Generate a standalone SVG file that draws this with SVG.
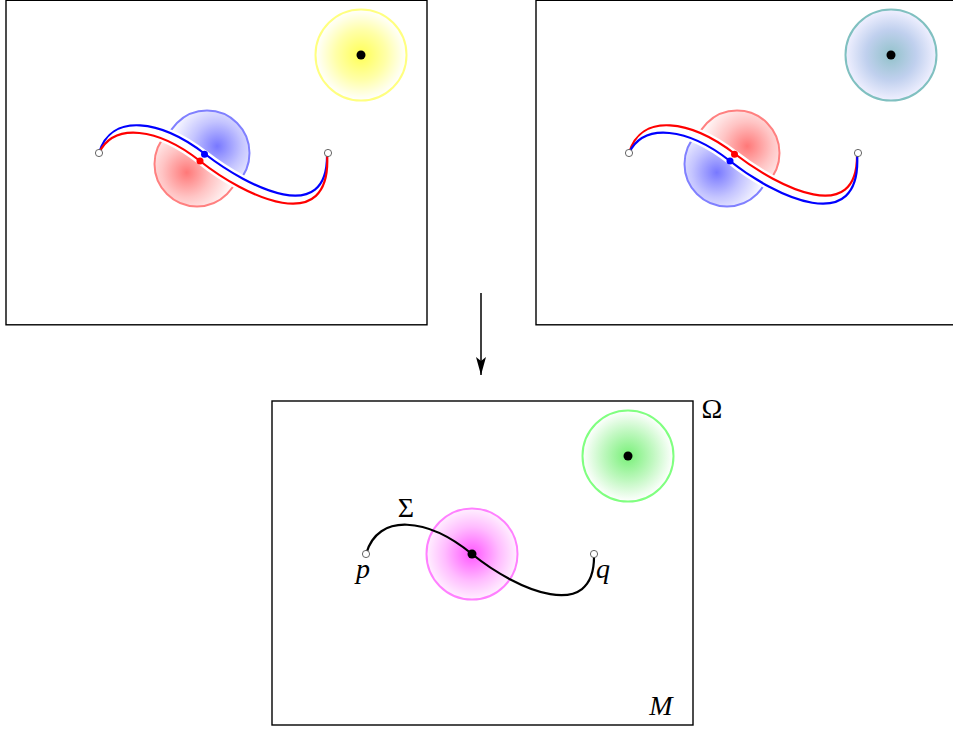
<svg xmlns="http://www.w3.org/2000/svg" width="953" height="729" viewBox="0 0 953 729">
<style>
.frame{fill:none;stroke:#000;stroke-width:1.4}
.ball{stroke-width:2}
.crv{fill:none;stroke-width:2.2;stroke-linecap:round}
.case{fill:none;stroke:#fff;stroke-width:7;stroke-linecap:round}
.end{fill:#fff;stroke:#555;stroke-width:0.9}
.lbl{font-family:"Liberation Serif","DejaVu Serif",serif;font-size:28px;fill:#000;text-anchor:middle}
.it{font-style:italic}
</style>
<defs>
<radialGradient id="gY" cx="0.5" cy="0.5" r="0.5"><stop offset="0" stop-color="#ffff55"/><stop offset="0.55" stop-color="#ffffa8"/><stop offset="1" stop-color="#ffffff"/></radialGradient>
<radialGradient id="gG" cx="0.5" cy="0.5" r="0.5"><stop offset="0" stop-color="#78f078"/><stop offset="0.55" stop-color="#c0f8c0"/><stop offset="1" stop-color="#ffffff"/></radialGradient>
<radialGradient id="gM" cx="0.5" cy="0.5" r="0.5"><stop offset="0" stop-color="#ff55ff"/><stop offset="0.6" stop-color="#ffbcff"/><stop offset="1" stop-color="#fff0ff"/></radialGradient>
<radialGradient id="gT" cx="0.5" cy="0.5" r="0.5"><stop offset="0" stop-color="#92c2ca"/><stop offset="0.55" stop-color="#c0d0ee"/><stop offset="1" stop-color="#f0f0ff"/></radialGradient>
<radialGradient id="gBur" cx="0.62" cy="0.42" r="0.58"><stop offset="0" stop-color="#7878ff"/><stop offset="0.5" stop-color="#c4c4ff"/><stop offset="1" stop-color="#ffffff"/></radialGradient>
<radialGradient id="gRdl" cx="0.38" cy="0.6" r="0.58"><stop offset="0" stop-color="#ff7878"/><stop offset="0.5" stop-color="#ffc4c4"/><stop offset="1" stop-color="#ffffff"/></radialGradient>
<radialGradient id="gRur" cx="0.62" cy="0.42" r="0.58"><stop offset="0" stop-color="#ff7878"/><stop offset="0.5" stop-color="#ffc4c4"/><stop offset="1" stop-color="#ffffff"/></radialGradient>
<radialGradient id="gBdl" cx="0.38" cy="0.6" r="0.58"><stop offset="0" stop-color="#7878ff"/><stop offset="0.5" stop-color="#c4c4ff"/><stop offset="1" stop-color="#ffffff"/></radialGradient>
<clipPath id="cLtop"><path d="M99,153 C111,112 161,120 205,154 C249,188 329,228 327,153 L327,0 L99,0 Z"/></clipPath>
<clipPath id="cLbot"><path d="M99,153 C114,122 158,128 200,161 C244,196 333,240 327,153 L327,325 L99,325 Z"/></clipPath>
<clipPath id="cRtop"><path d="M629,153 C641,112 691,120 735,154 C779,188 859,228 857,153 L857,0 L629,0 Z"/></clipPath>
<clipPath id="cRbot"><path d="M629,153 C644,122 688,128 730,161 C774,196 863,240 857,153 L857,325 L629,325 Z"/></clipPath>
<marker id="ah" markerWidth="18" markerHeight="10" refX="18" refY="5" orient="auto" markerUnits="userSpaceOnUse" viewBox="0 0 18 10">
<path d="M18,5 L0,0 L4,5 L0,10 Z" fill="#000"/>
</marker>
</defs>

<g id="panel-left">
<rect class="frame" x="6" y="0.3" width="421" height="324.5"/>
<g id="ball-yellow"><circle class="ball" cx="361" cy="55" r="45.5" fill="url(#gY)" stroke="#ffff80"/><circle cx="361" cy="55" r="4.5" fill="#000"/></g>
<g id="ball-blue-left" clip-path="url(#cLtop)"><circle class="ball" cx="207" cy="153" r="42.5" fill="url(#gBur)" stroke="#8080ff"/></g>
<g id="ball-red-left" clip-path="url(#cLbot)"><circle class="ball" cx="197" cy="164" r="42.5" fill="url(#gRdl)" stroke="#ff8080"/></g>
<path class="case" d="M99,153 C111,112 161,120 205,154 C249,188 329,228 327,153"/>
<path class="case" d="M99,153 C114,122 158,128 200,161 C244,196 333,240 327,153"/>
<path class="crv" stroke="#0000ff" d="M99,153 C111,112 161,120 205,154 C249,188 329,228 327,153"/>
<path class="crv" stroke="#ff0000" d="M99,153 C114,122 158,128 200,161 C244,196 333,240 327,153"/>
<circle cx="204.5" cy="154.3" r="3.5" fill="#0000ff"/>
<circle cx="200" cy="161" r="3.5" fill="#ff0000"/>
<circle class="end" cx="99" cy="153" r="3.6"/>
<circle class="end" cx="328" cy="153" r="3.6"/>
</g>

<g id="panel-right">
<rect class="frame" x="536" y="0.3" width="421" height="324.5"/>
<g id="ball-teal"><circle class="ball" cx="891" cy="55" r="45.5" fill="url(#gT)" stroke="#80c0c0"/><circle cx="891" cy="55" r="4.5" fill="#000"/></g>
<g id="ball-red-right" clip-path="url(#cRtop)"><circle class="ball" cx="737" cy="153" r="42.5" fill="url(#gRur)" stroke="#ff8080"/></g>
<g id="ball-blue-right" clip-path="url(#cRbot)"><circle class="ball" cx="727" cy="164" r="42.5" fill="url(#gBdl)" stroke="#8080ff"/></g>
<path class="case" d="M629,153 C641,112 691,120 735,154 C779,188 859,228 857,153"/>
<path class="case" d="M629,153 C644,122 688,128 730,161 C774,196 863,240 857,153"/>
<path class="crv" stroke="#ff0000" d="M629,153 C641,112 691,120 735,154 C779,188 859,228 857,153"/>
<path class="crv" stroke="#0000ff" d="M629,153 C644,122 688,128 730,161 C774,196 863,240 857,153"/>
<circle cx="734.5" cy="154.3" r="3.5" fill="#ff0000"/>
<circle cx="730" cy="161" r="3.5" fill="#0000ff"/>
<circle class="end" cx="629" cy="153" r="3.6"/>
<circle class="end" cx="858" cy="153" r="3.6"/>
</g>

<g id="panel-bottom">
<rect class="frame" x="272" y="401" width="421" height="324"/>
<g id="ball-green"><circle class="ball" cx="628" cy="456" r="45.5" fill="url(#gG)" stroke="#80ff80"/><circle cx="628" cy="456" r="4.5" fill="#000"/></g>
<g id="ball-magenta"><circle class="ball" cx="472" cy="554" r="45.5" fill="url(#gM)" stroke="#ff80ff"/></g>
<path id="sigma-curve" class="crv" stroke="#000" d="M366,554 C378,512 428,518 472,554 C516,590 596,625 594,554"/>
<circle cx="472" cy="554" r="4.5" fill="#000"/>
<circle class="end" cx="366" cy="554" r="3.6"/>
<circle class="end" cx="594" cy="554" r="3.6"/>
<text class="lbl" x="406" y="517">Σ</text>
<text class="lbl it" x="363" y="578">p</text>
<text class="lbl it" x="603" y="578">q</text>
<text class="lbl" x="712" y="418">Ω</text>
<text class="lbl it" x="661" y="715">M</text>
</g>

<g id="connectors">
<line x1="481" y1="293" x2="481" y2="375" stroke="#000" stroke-width="1.5" marker-end="url(#ah)"/>
</g>
</svg>
